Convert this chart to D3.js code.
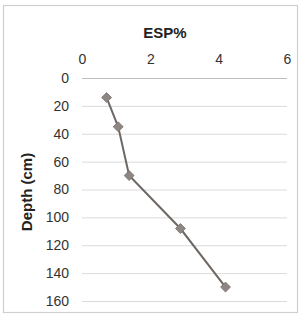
<!DOCTYPE html>
<html><head><meta charset="utf-8">
<script src="https://cdn.jsdelivr.net/npm/d3@7"></script>
<style>body{margin:0;background:#fff}svg{display:block}</style>
</head><body>
<script>
const esp = [0.72, 1.06, 1.38, 2.88, 4.2];
const depth = [14, 35, 70, 108, 150];
const xTicks = [0, 2, 4, 6];
const yTicks = [0, 20, 40, 60, 80, 100, 120, 140, 160];

const W = 301, H = 317;
const svg = d3.select("body").append("svg").attr("width", W).attr("height", H);
svg.append("rect").attr("x", 3.5).attr("y", 5.5).attr("width", 294).attr("height", 307)
  .attr("fill", "#fff").attr("stroke", "#cfcfcf").attr("stroke-width", 1.2);

const x = d3.scaleLinear().domain([0, 6]).range([82, 287]);
const y = d3.scaleLinear().domain([0, 160]).range([78, 301]);

const font = "'Liberation Sans', Arial, sans-serif";

svg.append("g").selectAll("line").data(yTicks).join("line")
  .attr("x1", x(0)).attr("x2", x(6)).attr("y1", d => y(d) + 0.5).attr("y2", d => y(d) + 0.5)
  .attr("stroke", d => d === 0 ? "#bdbdbd" : "#dadada").attr("stroke-width", 1);

const xAxis = svg.append("g").attr("transform", `translate(0,${y(0)})`)
  .call(d3.axisTop(x).tickValues(xTicks).tickFormat(d3.format("d")).tickSize(0).tickPadding(14));
xAxis.select(".domain").remove();
xAxis.selectAll("text").attr("font-family", font).attr("font-size", 14).attr("fill", "#333");

const yAxis = svg.append("g").attr("transform", `translate(${x(0)},0)`)
  .call(d3.axisLeft(y).tickValues(yTicks).tickFormat(d3.format("d")).tickSize(0).tickPadding(13));
yAxis.select(".domain").remove();
yAxis.selectAll("text").attr("font-family", font).attr("font-size", 14).attr("fill", "#333");

svg.append("text").attr("x", 165).attr("y", 38).attr("text-anchor", "middle")
  .attr("font-family", font).attr("font-size", 15).attr("font-weight", "bold").attr("fill", "#222")
  .text("ESP%");
svg.append("text").attr("transform", "translate(32,192) rotate(-90)").attr("text-anchor", "middle")
  .attr("font-family", font).attr("font-size", 15).attr("font-weight", "bold").attr("fill", "#222")
  .text("Depth (cm)");

const pts = esp.map((e, i) => [e, depth[i]]);
svg.append("path").datum(pts)
  .attr("d", d3.line().x(d => x(d[0])).y(d => y(d[1])))
  .attr("fill", "none").attr("stroke", "#6e6864").attr("stroke-width", 2);
svg.append("g").selectAll("rect").data(pts).join("rect")
  .attr("x", -3.5).attr("y", -3.5).attr("width", 7).attr("height", 7)
  .attr("transform", d => `translate(${x(d[0])},${y(d[1])}) rotate(45)`)
  .attr("fill", "#8e8682").attr("stroke", "#7a736f").attr("stroke-width", 0.8);
</script>
</body></html>
